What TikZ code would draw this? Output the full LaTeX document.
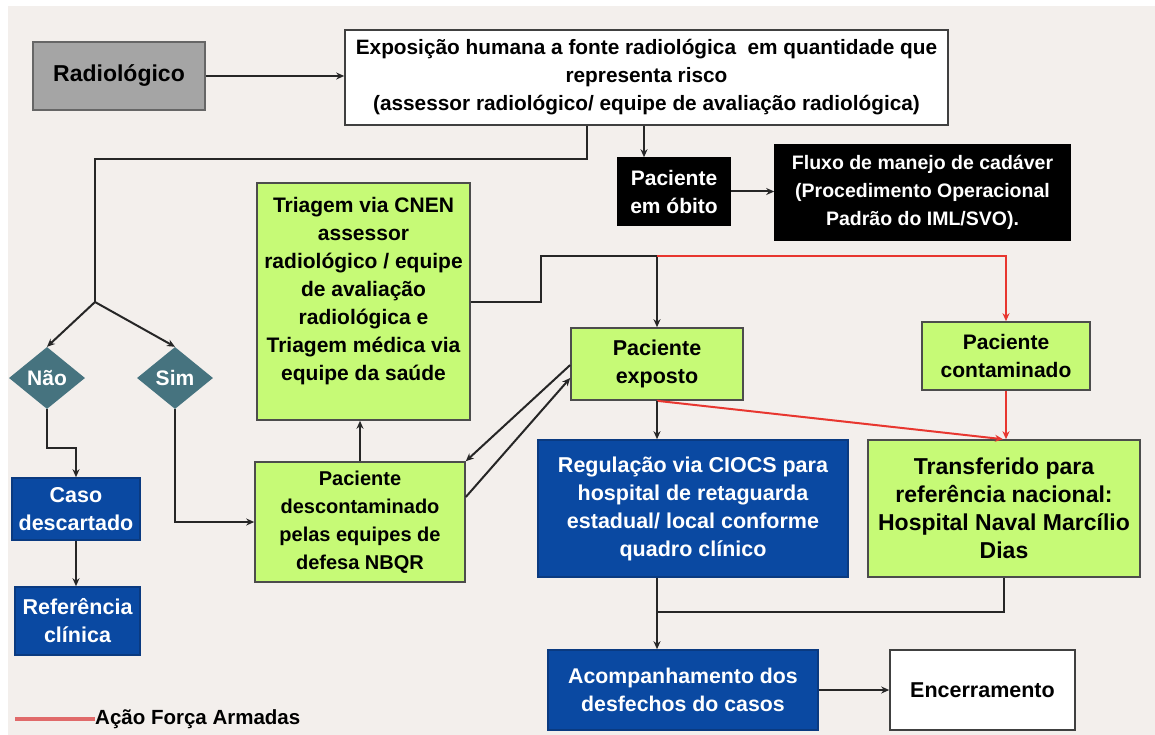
\documentclass[tikz,border=0pt]{standalone}
\usepackage{fontspec}
\setmainfont{Liberation Sans}
\usetikzlibrary{shapes.geometric,arrows.meta,calc}
\definecolor{bg}{HTML}{F3EFEC}
\definecolor{lime}{HTML}{C6FA76}
\definecolor{navy}{HTML}{0A49A2}
\definecolor{navyb}{HTML}{0A3A80}
\definecolor{tealc}{HTML}{46737F}
\definecolor{redline}{HTML}{E8362F}
\definecolor{legred}{HTML}{E06A6A}
\definecolor{grayfill}{HTML}{A5A5A5}
\newcommand{\fs}[1]{\bfseries\fontsize{#1}{28}\selectfont}
\begin{document}
\begin{tikzpicture}[x=1pt,y=-1pt,
  box/.style={draw=black!75, line width=1.6pt, inner sep=0pt, align=center,
    font=\fs{21}},
  greenbox/.style={box, fill=lime, draw=black!70},
  bluebox/.style={box, fill=navy, draw=navyb, text=white},
  blackbox/.style={box, fill=black, draw=black, text=white},
  whitebox/.style={box, fill=white},
  graybox/.style={box, fill=grayfill, draw=black!60, font=\fs{23}},
  decision/.style={diamond, fill=tealc, text=white, inner sep=0pt,
    minimum width=76pt, minimum height=62pt, font=\fs{21}},
  txt/.style={inner sep=0pt, align=center, font=\fs{21}},
  conn/.style={draw=black!85, line width=2pt},
  arr/.style={conn, -{Stealth[length=8pt,width=7pt]}},
  redarr/.style={draw=redline, line width=2pt, -{Stealth[length=8pt,width=7pt]}},
  redconn/.style={draw=redline, line width=2pt}
]
\fill[white] (0,0) rectangle (1155,735);
\fill[bg] (8,6) rectangle (1155,735);
\useasboundingbox (0,0) rectangle (1155,735);

% nodes
\node[graybox, minimum width=172pt, minimum height=68pt] (rad) at (119,76) {Radiológico};
\node[whitebox, minimum width=603pt, minimum height=95pt, font=\fs{20.8}] (top) at (646.5,77.5)
  {Exposição humana a fonte radiológica\ \ em quantidade que\\ representa risco\\ (assessor radiológico/ equipe de avaliação radiológica)};
\node[blackbox, minimum width=112pt, minimum height=67pt] (obito) at (674,191.5) {Paciente\\em óbito};
\node[blackbox, minimum width=295pt, minimum height=95pt, font=\fs{19.5}] (fluxo) at (922.5,192.5)
  {Fluxo de manejo de cadáver\\(Procedimento Operacional\\Padrão do IML/SVO).};
\node[greenbox, minimum width=213pt, minimum height=237pt] (triagem) at (363.5,301.5) {};
\node[txt] (triagemtxt) at (363.5,291)
  {Triagem via CNEN\\assessor\\radiológico / equipe\\de avaliação\\radiológica e\\Triagem médica via\\equipe da saúde};
\node[greenbox, minimum width=172pt, minimum height=72pt, font=\fs{21.5}] (expo) at (657,364) {Paciente\\exposto};
\node[greenbox, minimum width=168pt, minimum height=68pt] (cont) at (1006,356) {Paciente\\contaminado};
\node[bluebox, minimum width=310pt, minimum height=137pt, font=\fs{21.5}] (reg) at (693,508.5)
  {Regulação via CIOCS para\\hospital de retaguarda\\estadual/ local conforme\\quadro clínico};
\node[greenbox, minimum width=272pt, minimum height=137pt, font=\fs{23}] (trans) at (1004,508.5)
  {Transferido para\\referência nacional:\\Hospital Naval Marcílio\\Dias};
\node[bluebox, minimum width=270pt, minimum height=80pt, font=\fs{21.3}] (acomp) at (683,690)
  {Acompanhamento dos\\desfechos do casos};
\node[whitebox, minimum width=185pt, minimum height=80pt, font=\fs{21.5}] (enc) at (982.5,690) {Encerramento};
\node[decision] (nao) at (47,378) {Não};
\node[decision] (sim) at (175,378) {Sim};
\node[bluebox, minimum width=128pt, minimum height=62pt, font=\fs{21.5}] (caso) at (76,509) {Caso\\descartado};
\node[bluebox, minimum width=125pt, minimum height=68pt, font=\fs{21.5}] (ref) at (77.5,621) {Referência\\clínica};
\node[greenbox, minimum width=210pt, minimum height=120pt, font=\fs{20}] (desc) at (360,522)
  {Paciente\\descontaminado\\pelas equipes de\\defesa NBQR};

% coordinates
\coordinate (t1) at ([xshift=-59.5pt]top.south);
\coordinate (branch) at (95,302);
\coordinate (t2) at ([xshift=-2.5pt]top.south);
\coordinate (j1) at (657,256);
\coordinate (j2) at (657,612);

% connectors
\draw[arr] (rad.east) -- (rad.east -| top.west);
\draw[conn] (t1) -- ++(0,33) -| (branch);
\draw[arr] (branch) -- (nao.north);
\draw[arr] (branch) -- (sim.north);
\draw[arr] (t2) -- (t2 |- obito.north);
\draw[arr] (obito.east) -- (obito.east -| fluxo.west);
\draw[conn] (triagem.east) -- ++(70,0) |- (j1);
\draw[arr] (j1) -- (expo.north);
\draw[redarr] (j1) -| (cont.north);
\draw[redarr] (cont.south) -- (cont.south |- trans.north);
\draw[redarr] (expo.south) -- ([xshift=-1pt]trans.north);
\draw[arr] (expo.south) -- (expo.south |- reg.north);
\draw[arr] (expo.south |- reg.south) -- (expo.south |- acomp.north);
\draw[conn] (trans.south) |- (j2);
\draw[arr] (acomp.east) -- (enc.west);
\draw[arr] (nao.south) -- ++(0,39) -| (caso.north);
\draw[arr] (caso.south) -- (caso.south |- ref.north);
\draw[arr] (sim.south) |- (desc.west);
\draw[arr] (desc.north) -- (desc.north |- triagem.south);
\draw[arr] ([yshift=-1pt]expo.west) -- (desc.north east);
\draw[arr] ([yshift=25pt]desc.east) -- ([yshift=-14pt]expo.west);

% legend
\node[txt, anchor=west, font=\bfseries\fontsize{20.5}{24}\selectfont] (legtxt) at (95,719) {Ação Força Armadas};
\coordinate (legstart) at (15,719);
\draw[legred, line width=3.5pt] (legstart) -- (legtxt.west);
\end{tikzpicture}
\end{document}
